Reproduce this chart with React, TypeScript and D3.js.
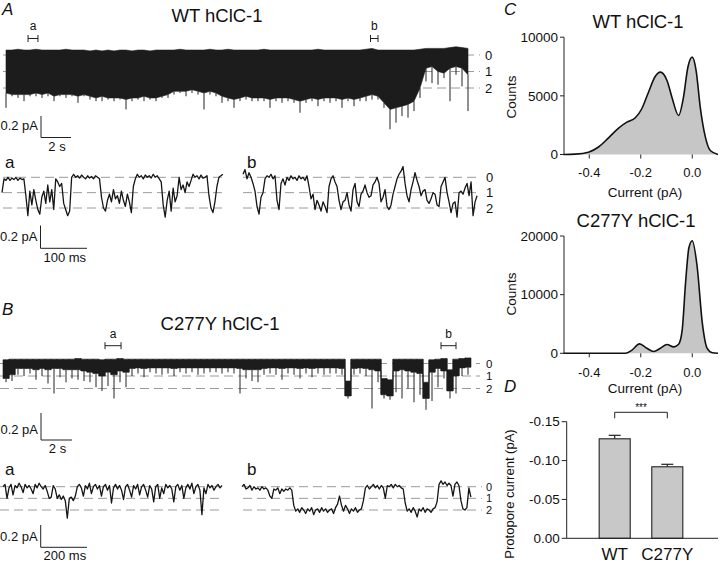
import React, { useEffect } from 'react';
import * as d3 from 'd3';

const FONT = 'Liberation Sans, Arial, Helvetica, sans-serif';

// ---------- Panel A: WT long recording (level units, 0 = all open, per 0.4 s bin) ----------
const wtLongDurationS = 31.2;
const wtLongUpper = [-0.3,-0.3,-0.35,-0.3,-0.3,-0.35,-0.3,-0.3,-0.3,-0.3,-0.35,-0.3,-0.3,-0.3,-0.25,-0.3,-0.25,-0.3,-0.25,-0.3,-0.3,-0.25,-0.3,-0.3,-0.25,-0.3,-0.3,-0.3,-0.3,-0.35,-0.3,-0.3,-0.3,-0.3,-0.35,-0.3,-0.3,-0.35,-0.3,-0.3,-0.3,-0.3,-0.3,-0.35,-0.3,-0.3,-0.3,-0.3,-0.3,-0.3,-0.3,-0.3,-0.35,-0.3,-0.3,-0.3,-0.3,-0.3,-0.3,-0.3,-0.35,-0.4,-0.3,-0.3,-0.3,-0.3,-0.3,-0.3,-0.3,-0.35,-0.4,-0.4,-0.4,-0.4,-0.45,-0.5,-0.45,-0.4];
const wtLongCore = [2.3,2.4,2.4,2.4,2.4,2.3,2.4,2.3,2.5,2.4,2.4,2.4,2.5,2.4,2.5,2.6,2.5,2.6,2.6,2.6,2.7,2.6,2.6,2.5,2.6,2.6,2.5,2.4,2.2,2.2,2.2,2.1,2.2,2.3,2.2,2.3,2.5,2.6,2.7,2.6,2.5,2.6,2.6,2.6,2.7,2.6,2.6,2.6,2.7,2.8,2.7,2.6,2.7,2.6,2.6,2.6,2.7,2.6,2.7,2.6,2.5,2.4,2.5,2.9,3.3,3.2,3.1,3.0,2.8,2.0,0.8,0.7,1.0,1.1,0.8,0.7,0.8,1.2];
const wtLongLower = [3.2,2.5,2.6,2.8,2.5,2.5,2.6,2.5,2.8,2.5,2.6,2.5,2.9,2.5,2.7,2.8,2.8,2.7,2.8,2.7,3.3,2.8,2.7,2.8,2.7,2.8,2.6,2.6,2.4,2.3,2.5,2.3,2.4,3.3,2.4,2.5,2.9,2.8,3.2,2.8,2.7,2.8,2.8,2.8,3.2,2.8,2.9,2.8,2.9,3.5,2.9,2.8,3.1,2.8,2.9,2.8,3.2,2.8,3.1,2.8,2.8,2.7,2.7,3.2,4.5,4.1,3.7,3.8,3.4,2.6,1.6,1.7,1.8,1.4,2.8,1.2,1.9,3.4];
const wtBrackets = [{ name: 'a', t0: 1.67, t1: 2.33 }, { name: 'b', t0: 24.5, t1: 25.0 }];

// ---------- Panel A a/b expanded segments (level units) ----------
const wtSegADurMs = 470;
const wtSegA = [1.0,0.1,0.2,0.0,0.2,0.05,0.15,0.0,0.2,0.05,0.15,0.1,1.2,2.5,0.9,1.8,0.8,1.5,2.1,2.4,1.3,0.9,1.7,0.5,1.6,0.8,2.1,0.1,0.3,0.6,0.4,1.7,2.1,2.5,2.2,0.0,-0.2,0.0,-0.1,0.05,-0.15,0.0,0.1,-0.1,0.05,-0.05,0.1,-0.1,0.0,0.1,1.3,2.0,2.2,1.5,1.1,1.6,0.8,1.4,1.2,1.7,0.9,1.5,1.9,1.1,1.6,2.3,0.6,0.1,-0.2,0.0,-0.1,0.1,-0.15,0.0,-0.1,0.05,-0.2,0.0,-0.1,0.1,0.3,1.8,2.6,1.5,0.9,2.2,0.7,1.6,1.2,0.0,0.8,0.5,1.0,0.3,0.6,0.2,-0.2,0.0,-0.1,0.1,-0.15,0.05,0.0,-0.1,1.2,2.0,2.3,1.6,0.6,0.0,-0.1,-0.2];
const wtSegBDurMs = 498;
const wtSegB = [-0.2,-0.5,0.1,-0.3,0.0,0.4,0.9,1.9,2.4,1.3,1.0,0.1,-0.1,0.0,-0.2,0.1,-0.1,1.5,2.1,0.4,0.1,0.5,0.0,0.2,-0.1,0.1,0.0,0.2,-0.1,0.1,0.0,0.2,-0.1,0.6,1.4,1.1,2.1,1.5,1.8,2.2,1.6,1.9,2.3,0.6,0.1,-0.1,0.3,0.6,1.5,2.1,1.6,1.5,1.0,1.8,2.2,0.8,0.4,1.6,1.9,1.1,0.9,0.5,1.0,1.3,1.2,0.5,0.3,0.0,0.4,1.6,1.3,0.8,1.9,2.1,1.8,1.1,0.6,0.1,-0.2,-0.4,-0.7,0.4,1.2,1.6,0.8,0.3,-0.3,0.2,0.6,1.2,0.9,0.8,1.5,1.7,1.4,1.0,1.1,1.8,1.9,0.6,0.3,0.0,1.0,1.6,2.3,1.7,1.6,2.6,1.0,0.9,1.1,0.7,0.4,1.2,0.3,2.5,1.6,1.2];

// ---------- Panel B: C277Y long recording ----------
const c277LongDurationS = 31.2;
const c277LongUpper = [-0.3,-0.35,-0.35,-0.35,-0.35,-0.35,-0.35,-0.35,-0.35,-0.35,-0.35,-0.35,-0.4,-0.35,-0.35,-0.35,-0.3,-0.35,-0.35,-0.4,-0.35,-0.35,-0.35,-0.35,-0.35,-0.35,-0.35,-0.35,-0.35,-0.35,-0.35,-0.35,-0.35,-0.35,-0.35,-0.35,-0.35,-0.35,-0.35,-0.35,-0.35,-0.35,-0.35,-0.35,-0.35,-0.35,-0.35,-0.35,-0.35,-0.35,-0.35,-0.35,-0.35,-0.35,-0.35,-0.35,-0.35,1.4,-0.35,-0.35,-0.35,-0.35,-0.35,1.2,1.3,-0.35,-0.35,-0.35,-0.35,-0.35,1.5,-0.3,-0.35,-0.4,0.5,-0.35,-0.4,-0.45];
const c277LongCore = [1.2,0.9,0.4,0.4,0.4,0.5,0.4,0.5,0.4,0.4,0.5,0.5,0.5,0.6,0.7,0.8,1.0,0.7,0.9,0.6,0.7,0.4,0.35,0.4,0.35,0.35,0.35,0.35,0.4,0.35,0.35,0.35,0.35,0.35,0.35,0.35,0.35,0.35,0.35,0.4,0.5,0.5,0.5,0.4,0.35,0.35,0.4,0.35,0.35,0.4,0.35,0.4,0.35,0.35,0.35,0.35,0.4,2.6,0.4,0.35,0.4,0.5,0.6,2.5,2.6,0.6,0.5,0.6,0.7,0.8,2.8,0.7,0.4,0.6,2.2,1.0,0.35,0.3];
const c277LongLower = [1.5,1.4,0.9,1.0,0.8,1.3,1.0,1.6,2.4,1.1,1.5,1.2,1.3,1.4,1.5,1.9,2.2,1.8,2.8,1.5,1.9,1.0,0.8,1.1,0.7,0.8,0.9,0.8,1.0,0.7,0.8,0.7,0.9,0.8,0.7,0.7,0.8,0.7,0.8,2.4,1.2,1.4,1.5,0.9,0.8,0.9,1.3,0.8,0.9,1.2,0.8,1.1,0.8,0.9,0.8,0.8,0.9,2.8,0.9,0.8,1.0,3.6,1.5,2.8,2.9,2.3,2.8,2.0,3.1,2.5,3.7,3.0,1.9,1.2,2.8,2.4,1.0,0.9];
const c277Brackets = [{ name: 'a', t0: 6.8, t1: 7.87 }, { name: 'b', t0: 29.2, t1: 30.2 }];

// ---------- Panel B a/b expanded segments ----------
const c277SegADurMs = 932;
const c277SegA = [0.0,-0.2,1.0,0.1,-0.2,0.7,-0.1,0.1,-0.3,0.0,0.5,-0.2,0.1,-0.1,0.2,0.6,-0.2,0.1,-0.3,0.0,0.2,-0.1,0.4,1.0,0.9,-0.1,0.2,1.0,0.7,1.1,0.8,1.2,2.7,1.0,0.9,1.2,0.8,0.0,-0.2,0.1,0.8,-0.1,0.2,-0.3,0.6,0.0,-0.2,0.2,-0.1,0.8,0.0,-0.2,0.3,-0.1,1.4,0.1,-0.2,0.2,-0.1,0.3,1.1,0.0,-0.2,0.3,0.9,-0.1,0.2,-0.2,0.7,0.0,-0.2,0.3,0.9,-0.1,0.2,1.3,0.0,-0.2,1.0,0.1,0.6,-0.2,0.1,-0.1,0.2,1.3,0.0,-0.2,0.3,-0.1,1.0,0.1,-0.2,0.2,-0.3,0.6,0.0,-0.2,0.3,2.4,0.1,0.6,-0.2,0.1,-0.1,0.3,0.0,-0.2,0.1,-0.1];
const c277SegBDurMs = 974;
const c277SegB = [0.0,-0.2,0.2,0.1,-0.1,0.3,0.0,0.2,0.1,0.3,0.0,0.2,0.1,0.3,0.8,1.0,0.2,0.3,0.1,0.6,0.2,0.4,0.2,0.3,0.1,0.3,1.6,2.1,1.9,2.2,1.8,2.0,2.3,1.9,2.1,1.8,2.4,2.0,1.9,2.2,1.8,2.1,1.9,2.2,2.0,1.9,2.3,1.8,1.5,0.8,1.6,2.1,1.6,1.9,2.3,1.9,2.1,1.8,2.2,2.0,1.9,1.2,0.1,-0.1,0.2,0.0,-0.2,0.1,-0.1,0.2,-0.1,0.1,1.0,-0.1,0.0,-0.2,0.1,-0.2,0.0,-0.1,0.1,0.2,1.4,2.1,1.9,2.2,1.8,2.1,2.6,1.9,2.1,1.8,2.2,1.9,2.0,2.2,1.9,1.8,1.3,-0.2,-0.5,-0.2,-0.4,-0.1,-0.3,-0.1,0.8,-0.2,-0.4,-0.1,1.2,1.9,2.0,1.8,0.1,0.9];

const levelLabels = ['0', '1', '2'];

// ---------- Panel C: all-point amplitude histograms with fits ----------
const wtHistCurrent = [-0.5,-0.454,-0.403,-0.364,-0.325,-0.286,-0.254,-0.221,-0.196,-0.17,-0.144,-0.124,-0.098,-0.079,-0.053,-0.034,-0.017,0.0,0.015,0.031,0.051,0.07,0.1];
const wtHistCounts = [0,30,200,640,1420,2250,2760,3130,3900,5310,6650,7020,6310,4890,3330,4890,7440,8300,7160,4040,1480,340,0];
const c277HistCurrent = [-0.5,-0.3,-0.26,-0.234,-0.205,-0.176,-0.15,-0.124,-0.098,-0.072,-0.053,-0.039,-0.026,-0.013,0.0,0.019,0.039,0.058,0.078,0.1];
const c277HistCounts = [0,0,0,550,1600,850,300,850,1500,1100,1550,4000,12000,18000,19200,14800,5200,850,100,0];
const histXTicks = [-0.4, -0.2, 0.0];
const wtHistYTicks = [0, 5000, 10000];
const c277HistYTicks = [0, 10000, 20000];

// ---------- Panel D: protopore current ----------
const barGroups = ['WT', 'C277Y'];
const barMeans = [-0.128, -0.092];
const barSems = [0.0045, 0.0032];
const barYTicks = [0, -0.05, -0.10, -0.15];

type Bracket = { name: string; t0: number; t1: number };

function LevelLines({ x0, x1, y0, y2, labelX, labelSize = 13 }: any) {
  const y = d3.scaleLinear().domain([0, 2]).range([y0, y2]);
  return (
    <g>
      {levelLabels.map((l, i) => (
        <g key={l}>
          <line x1={x0} x2={x1} y1={y(i)} y2={y(i)} stroke="#9a9a9a" strokeWidth={1} strokeDasharray="9 5" />
          {labelX != null && (
            <text x={labelX} y={y(i)} dy="0.36em" fontSize={labelSize} fill="#111">{l}</text>
          )}
        </g>
      ))}
    </g>
  );
}

function LongTrace({ upper, core, lower, duration, x0, x1, y0, y2, brackets, bracketY, bracketLabelY, step }: any) {
  const n = upper.length;
  const x = d3.scaleLinear().domain([0, duration]).range([x0, x1]);
  const y = d3.scaleLinear().domain([0, 2]).range([y0, y2]);
  const dt = duration / n;
  const idx = d3.range(n);
  let areaPath = '';
  if (step) {
    const sIdx = d3.range(n + 1);
    areaPath =
      d3
        .area<number>()
        .x((i) => x(i * dt))
        .y0((i) => y(upper[Math.min(i, n - 1)]))
        .y1((i) => y(core[Math.min(i, n - 1)]))
        .curve(d3.curveStepAfter)(sIdx) || '';
  } else {
    areaPath =
      d3
        .area<number>()
        .x((i) => x((i + 0.5) * dt))
        .y0((i) => y(upper[i]))
        .y1((i) => y(core[i]))
        .curve(d3.curveLinear)(idx) || '';
  }
  return (
    <g>
      <path d={areaPath} fill="#1c1c1c" stroke="#1c1c1c" strokeWidth={0.6} />
      {step &&
        d3.range(1, n).map((i) => (
          <line
            key={'t' + i}
            x1={x(i * dt)}
            x2={x(i * dt)}
            y1={y(Math.min(upper[i - 1], upper[i]))}
            y2={y(Math.max(core[i - 1], core[i]))}
            stroke="#1c1c1c"
            strokeWidth={1}
          />
        ))}
      {idx.map((i) => (
        <line key={i} x1={x((i + 0.5) * dt)} x2={x((i + 0.5) * dt)} y1={y(core[i])} y2={y(lower[i])} stroke="#222" strokeWidth={1} />
      ))}
      {brackets.map((b: Bracket) => (
        <g key={b.name} stroke="#222" strokeWidth={1}>
          <line x1={x(b.t0)} x2={x(b.t1)} y1={bracketY} y2={bracketY} />
          <line x1={x(b.t0)} x2={x(b.t0)} y1={bracketY - 3.5} y2={bracketY + 3.5} />
          <line x1={x(b.t1)} x2={x(b.t1)} y1={bracketY - 3.5} y2={bracketY + 3.5} />
          <text x={(x(b.t0) + x(b.t1)) / 2} y={bracketLabelY} textAnchor="middle" fontSize={12} stroke="none" fill="#111">{b.name}</text>
        </g>
      ))}
    </g>
  );
}

function ShortTrace({ values, durMs, pxPerMs, x0, y0, y2 }: any) {
  const n = values.length;
  const x = d3.scaleLinear().domain([0, durMs]).range([x0, x0 + durMs * pxPerMs]);
  const y = d3.scaleLinear().domain([0, 2]).range([y0, y2]);
  const line = d3
    .line<number>()
    .x((_, i) => x((i * durMs) / (n - 1)))
    .y((v) => y(v));
  return <path d={line(values) || ''} fill="none" stroke="#151515" strokeWidth={1.3} strokeLinejoin="round" />;
}

function ScaleBar({ x0, yTop, yBottom, xRight, vLabel, hLabel, vLabelY, hLabelY }: any) {
  return (
    <g>
      <line x1={x0} x2={x0} y1={yTop} y2={yBottom} stroke="#222" strokeWidth={1} />
      <line x1={x0} x2={xRight} y1={yBottom} y2={yBottom} stroke="#222" strokeWidth={1} />
      <text x={x0 - 3} y={vLabelY} textAnchor="end" fontSize={13} fill="#111">{vLabel}</text>
      <text x={(x0 + xRight) / 2 + 1} y={hLabelY} textAnchor="middle" fontSize={13} fill="#111">{hLabel}</text>
    </g>
  );
}

function Histogram({ currents, counts, yTicks, yMax, yBottom, yTop, title, titleX, titleY, tickLabelY, xLabelY, countsY }: any) {
  const x = d3.scaleLinear().domain([-0.5, 0.1]).range([563.5, 718]);
  const y = d3.scaleLinear().domain([0, yMax]).range([yBottom, yTop]);
  const pts = currents.map((c: number, i: number) => [c, counts[i]] as [number, number]);
  const area = d3
    .area<[number, number]>()
    .x((d) => x(d[0]))
    .y0(y(0))
    .y1((d) => y(d[1]))
    .curve(d3.curveMonotoneX);
  const line = d3
    .line<[number, number]>()
    .x((d) => x(d[0]))
    .y((d) => y(d[1]))
    .curve(d3.curveMonotoneX);
  const ax = 564;
  return (
    <g>
      <text x={titleX} y={titleY} textAnchor="middle" fontSize={18.5} fill="#111">{title}</text>
      <path d={area(pts) || ''} fill="#c6c6c6" />
      <path d={line(pts) || ''} fill="none" stroke="#111" strokeWidth={1.6} />
      <line x1={ax} x2={ax} y1={y(yMax)} y2={y(0)} stroke="#222" strokeWidth={1} />
      {yTicks.map((t: number) => (
        <g key={t}>
          <line x1={ax - 4} x2={ax} y1={y(t)} y2={y(t)} stroke="#222" />
          <text x={ax - 6} y={y(t)} dy="0.35em" textAnchor="end" fontSize={13.5} fill="#111">{t}</text>
        </g>
      ))}
      {histXTicks.map((t: number) => (
        <g key={t}>
          <line x1={x(t)} x2={x(t)} y1={y(0)} y2={y(0) + 4} stroke="#222" />
          <text x={x(t)} y={tickLabelY} textAnchor="middle" fontSize={13} fill="#111">{t.toFixed(1)}</text>
        </g>
      ))}
      <text x={645} y={xLabelY} textAnchor="middle" fontSize={13.5} fill="#111">Current (pA)</text>
      <text transform={`translate(515.5,${countsY}) rotate(-90)`} textAnchor="middle" fontSize={13.5} fill="#111">Counts</text>
    </g>
  );
}

function BarPanel() {
  const y = d3.scaleLinear().domain([0, -0.15]).range([538.3, 421.7]);
  const x = d3.scaleBand<string>().domain(barGroups).range([566.7, 718]).paddingInner(0.41).paddingOuter(0.643).align(0.48);
  const ax = 566.7;
  const c0 = x('WT')! + x.bandwidth() / 2;
  const c1 = x('C277Y')! + x.bandwidth() / 2;
  const sigY = 412.3;
  return (
    <g>
      {barGroups.map((g, i) => {
        const bx = x(g)!;
        const cx = bx + x.bandwidth() / 2;
        return (
          <g key={g}>
            <line x1={cx} x2={cx} y1={y(barMeans[i])} y2={y(barMeans[i] - barSems[i])} stroke="#222" strokeWidth={1.2} />
            <line x1={cx - 6} x2={cx + 6} y1={y(barMeans[i] - barSems[i])} y2={y(barMeans[i] - barSems[i])} stroke="#222" strokeWidth={1.2} />
            <rect x={bx} y={y(barMeans[i])} width={x.bandwidth()} height={y(0) - y(barMeans[i])} fill="#c8c8c8" stroke="#222" strokeWidth={1.1} />
            <text x={cx} y={560} textAnchor="middle" fontSize={17} fill="#111">{g}</text>
          </g>
        );
      })}
      <line x1={ax} x2={ax} y1={y(-0.15)} y2={y(0)} stroke="#222" />
      <line x1={ax} x2={718} y1={y(0)} y2={y(0)} stroke="#222" />
      {barYTicks.map((t) => (
        <g key={t}>
          <line x1={ax - 5} x2={ax} y1={y(t)} y2={y(t)} stroke="#222" />
          <text x={ax - 7} y={y(t)} dy="0.35em" textAnchor="end" fontSize={13.5} fill="#111">{t.toFixed(2)}</text>
        </g>
      ))}
      <path d={`M${c0},${sigY + 6}V${sigY}H${c1}V${sigY + 6}`} fill="none" stroke="#222" strokeWidth={1} />
      <text x={(c0 + c1) / 2} y={sigY - 1} textAnchor="middle" fontSize={10} fill="#111">***</text>
      <text transform="translate(513.5,494) rotate(-90)" textAnchor="middle" fontSize={13} fill="#111">Protopore current (pA)</text>
    </g>
  );
}

export default function App() {
  useEffect(() => {
    document.body.style.margin = '0';
  }, []);
  const pxPerMsA = 0.47;
  const pxPerMsB = 0.235;
  return (
    <svg width={720} height={563} viewBox="0 0 720 563" style={{ position: 'absolute', left: 0, top: 0, background: '#fff', fontFamily: FONT }}>
      <rect x={0} y={0} width={720} height={563} fill="#fff" />
      {/* Panel letters */}
      <text x={2} y={15} fontSize={17} fontStyle="italic" fill="#111">A</text>
      <text x={2} y={315} fontSize={17} fontStyle="italic" fill="#111">B</text>
      <text x={504} y={15} fontSize={17} fontStyle="italic" fill="#111">C</text>
      <text x={504} y={392} fontSize={17} fontStyle="italic" fill="#111">D</text>

      {/* Panel A */}
      <text x={217} y={22} textAnchor="middle" fontSize={18.5} fill="#111">WT hClC-1</text>
      <LevelLines x0={3} x1={480} y0={55} y2={88} labelX={485} />
      <LongTrace upper={wtLongUpper} core={wtLongCore} lower={wtLongLower} duration={wtLongDurationS} x0={3} x1={471} y0={55} y2={88} brackets={wtBrackets} bracketY={38.5} bracketLabelY={30} />
      <ScaleBar x0={41} yTop={116} yBottom={137.5} xRight={71} vLabel="0.2 pA" hLabel="2 s" vLabelY={130} hLabelY={151} />

      <text x={5} y={168} fontSize={17} fill="#111">a</text>
      <text x={247} y={168} fontSize={17} fill="#111">b</text>
      <LevelLines x0={3} x1={224} y0={177.3} y2={208} />
      <LevelLines x0={243} x1={481} y0={177.3} y2={208} labelX={486} />
      <ShortTrace values={wtSegA} durMs={wtSegADurMs} pxPerMs={pxPerMsA} x0={2} y0={177.3} y2={208} />
      <ShortTrace values={wtSegB} durMs={wtSegBDurMs} pxPerMs={pxPerMsA} x0={243} y0={177.3} y2={208} />
      <ScaleBar x0={40.5} yTop={225.5} yBottom={248.3} xRight={87} vLabel="0.2 pA" hLabel="100 ms" vLabelY={241} hLabelY={262} />

      {/* Panel B */}
      <text x={220} y={330} textAnchor="middle" fontSize={18.5} fill="#111">C277Y hClC-1</text>
      <LevelLines x0={0} x1={480} y0={363.5} y2={388.5} labelX={486} labelSize={11.5} />
      <LongTrace upper={c277LongUpper} core={c277LongCore} lower={c277LongLower} duration={c277LongDurationS} x0={3} x1={471} y0={363.5} y2={388.5} brackets={c277Brackets} bracketY={345.7} bracketLabelY={338} step />
      <ScaleBar x0={41} yTop={413} yBottom={440} xRight={72} vLabel="0.2 pA" hLabel="2 s" vLabelY={434} hLabelY={453} />

      <text x={5} y={475} fontSize={17} fill="#111">a</text>
      <text x={247} y={475} fontSize={17} fill="#111">b</text>
      <LevelLines x0={0} x1={222} y0={486.7} y2={510} />
      <LevelLines x0={243} x1={482} y0={486.7} y2={510} labelX={486} labelSize={11} />
      <ShortTrace values={c277SegA} durMs={c277SegADurMs} pxPerMs={pxPerMsB} x0={3} y0={486.7} y2={510} />
      <ShortTrace values={c277SegB} durMs={c277SegBDurMs} pxPerMs={pxPerMsB} x0={242} y0={486.7} y2={510} />
      <ScaleBar x0={40.7} yTop={525} yBottom={547.3} xRight={87} vLabel="0.2 pA" hLabel="200 ms" vLabelY={541} hLabelY={560} />

      {/* Panel C */}
      <Histogram currents={wtHistCurrent} counts={wtHistCounts} yTicks={wtHistYTicks} yMax={10000} yBottom={154.5} yTop={37.2} title="WT hClC-1" titleX={638} titleY={28} tickLabelY={177} xLabelY={197} countsY={97} />
      <Histogram currents={c277HistCurrent} counts={c277HistCounts} yTicks={c277HistYTicks} yMax={20000} yBottom={353.3} yTop={236} title="C277Y hClC-1" titleX={636} titleY={227} tickLabelY={377} xLabelY={392.5} countsY={294} />

      {/* Panel D */}
      <BarPanel />
    </svg>
  );
}
